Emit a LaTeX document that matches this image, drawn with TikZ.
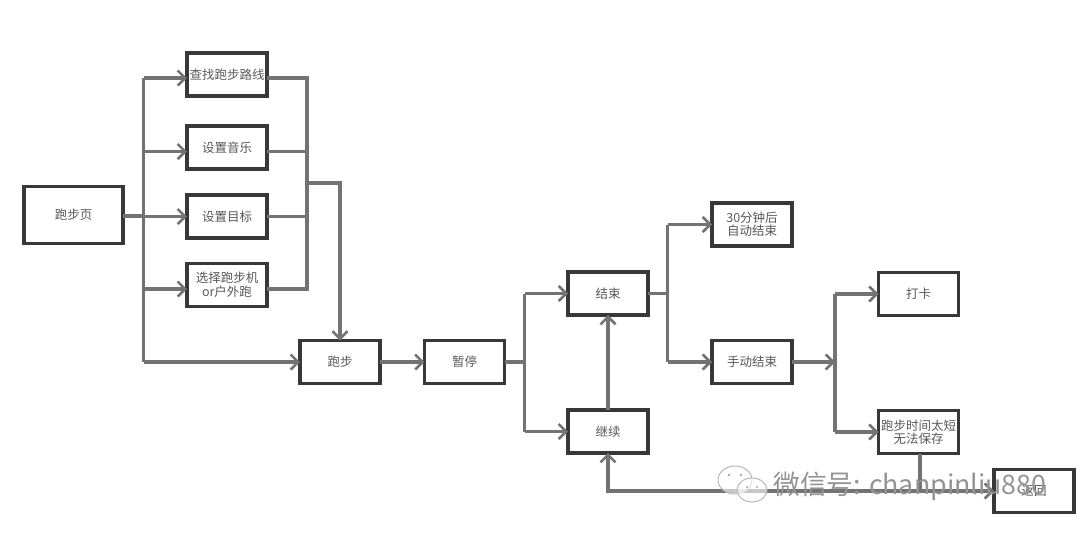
\documentclass[tikz,border=0pt]{standalone}
\usepackage{fontspec}
\setmainfont{Noto Sans CJK SC}
\usetikzlibrary{arrows.meta}
\tikzset{
 bx/.style={draw=black!78,line width=3.2pt,fill=white,inner sep=0pt,outer sep=0pt,align=center,text=black!65,font=\fontsize{12.5pt}{13.5pt}\selectfont,minimum width=80pt,minimum height=43pt},
 ln/.style={draw=black!55,line width=3.4pt,line join=miter},
 ar/.style={ln,-{Straight Barb[length=7.5pt,width=15pt,line width=2.6pt]}},
 wmb/.style={draw=black!28,line width=1pt,fill=white,fill opacity=.6},
}
\begin{document}
\begin{tikzpicture}[x=1pt,y=1pt]
\useasboundingbox (0,0) rectangle (1080,-536);
\fill[white] (0,0) rectangle (1080,-536);
% boxes
\node[bx,minimum width=99pt,minimum height=57pt] (a) at (73.5,-215) {跑步页};
\node[bx] (b1) at (227,-74.5) {查找跑步路线};
\node[bx] (b2) at (227,-147.5) {设置音乐};
\node[bx] (b3) at (227,-216.5) {设置目标};
\node[bx] (b4) at (227,-285) {选择跑步机\\or户外跑};
\node[bx] (c) at (340,-362) {跑步};
\node[bx] (d) at (464.5,-362) {暂停};
\node[bx] (e) at (608,-293.5) {结束};
\node[bx] (f) at (608,-431.5) {继续};
\node[bx] (g) at (752,-224.5) {30分钟后\\自动结束};
\node[bx] (h) at (752,-362) {手动结束};
\node[bx] (i) at (918.5,-294) {打卡};
\node[bx] (j) at (918.5,-432) {跑步时间太短\\无法保存};
\node[bx] (k) at (1034,-491) {返回};
% named junctions
\coordinate (w1) at ([yshift=-3.5pt]b1.west);
\coordinate (w2) at ([yshift=-4pt]b2.west);
\coordinate (w3) at ([yshift=0pt]b3.west);
\coordinate (w4) at ([yshift=-4pt]b4.west);
\coordinate (e1) at ([yshift=-3.5pt]b1.east);
\coordinate (e2) at ([yshift=-4pt]b2.east);
\coordinate (e3) at ([yshift=0pt]b3.east);
\coordinate (e4) at ([yshift=-4pt]b4.east);
\coordinate (busL) at (143.5,-216);
\coordinate (busR) at (307,-183);
\coordinate (bus3) at (524.5,-362);
\coordinate (bus4) at (667.5,-293.5);
\coordinate (bus5) at (835,-362);
\coordinate (low) at (920,-491);
% connectors
\draw[ln] (a.east |- busL) -- (busL);
\draw[ln] (busL |- w1) -- (busL |- c.west);
\draw[ar] (busL |- w1) -- (w1);
\draw[ar] (busL |- w2) -- (w2);
\draw[ar] (busL |- w3) -- (w3);
\draw[ar] (busL |- w4) -- (w4);
\draw[ar] (busL |- c.west) -- (c.west);
\draw[ln] (e1) -- (busR |- e1) -- (busR |- e4) -- (e4);
\draw[ln] (e2) -- (busR |- e2);
\draw[ln] (e3) -- (busR |- e3);
\draw[ar] (busR) -| (c.north);
\draw[ar] (c.east) -- (d.west);
\draw[ln] (d.east) -- (bus3);
\draw[ln] (bus3 |- e.west) -- (bus3 |- f.west);
\draw[ar] (bus3 |- e.west) -- (e.west);
\draw[ar] (bus3 |- f.west) -- (f.west);
\draw[ar] (f.north) -- (e.south);
\draw[ln] (e.east) -- (bus4);
\draw[ln] (bus4 |- g.west) -- (bus4 |- h.west);
\draw[ar] (bus4 |- g.west) -- (g.west);
\draw[ar] (bus4 |- h.west) -- (h.west);
\draw[ar] (h.east) -- (bus5);
\draw[ln] (bus5 |- i.west) -- (bus5 |- j.west);
\draw[ar] (bus5 |- i.west) -- (i.west);
\draw[ar] (bus5 |- j.west) -- (j.west);
\draw[ln] (low |- j.south) -- (low);
\draw[ar] (low) -| (f.south);
\draw[ar] (low) -- (k.west);
% watermark
\node[text=black!42,font=\fontsize{26.8pt}{28pt}\selectfont,inner sep=0pt,anchor=west] (wm) at (773,-486) {微信号: chanpinliu880};
\draw[wmb] (735,-480) ellipse (17pt and 14pt);
\draw[wmb] (752,-490) ellipse (15pt and 12pt);
\fill[black!35] (729,-475) circle (1.3pt) (741,-475) circle (1.3pt) (747,-487) circle (1.2pt) (757,-487) circle (1.2pt);
\end{tikzpicture}
\end{document}
